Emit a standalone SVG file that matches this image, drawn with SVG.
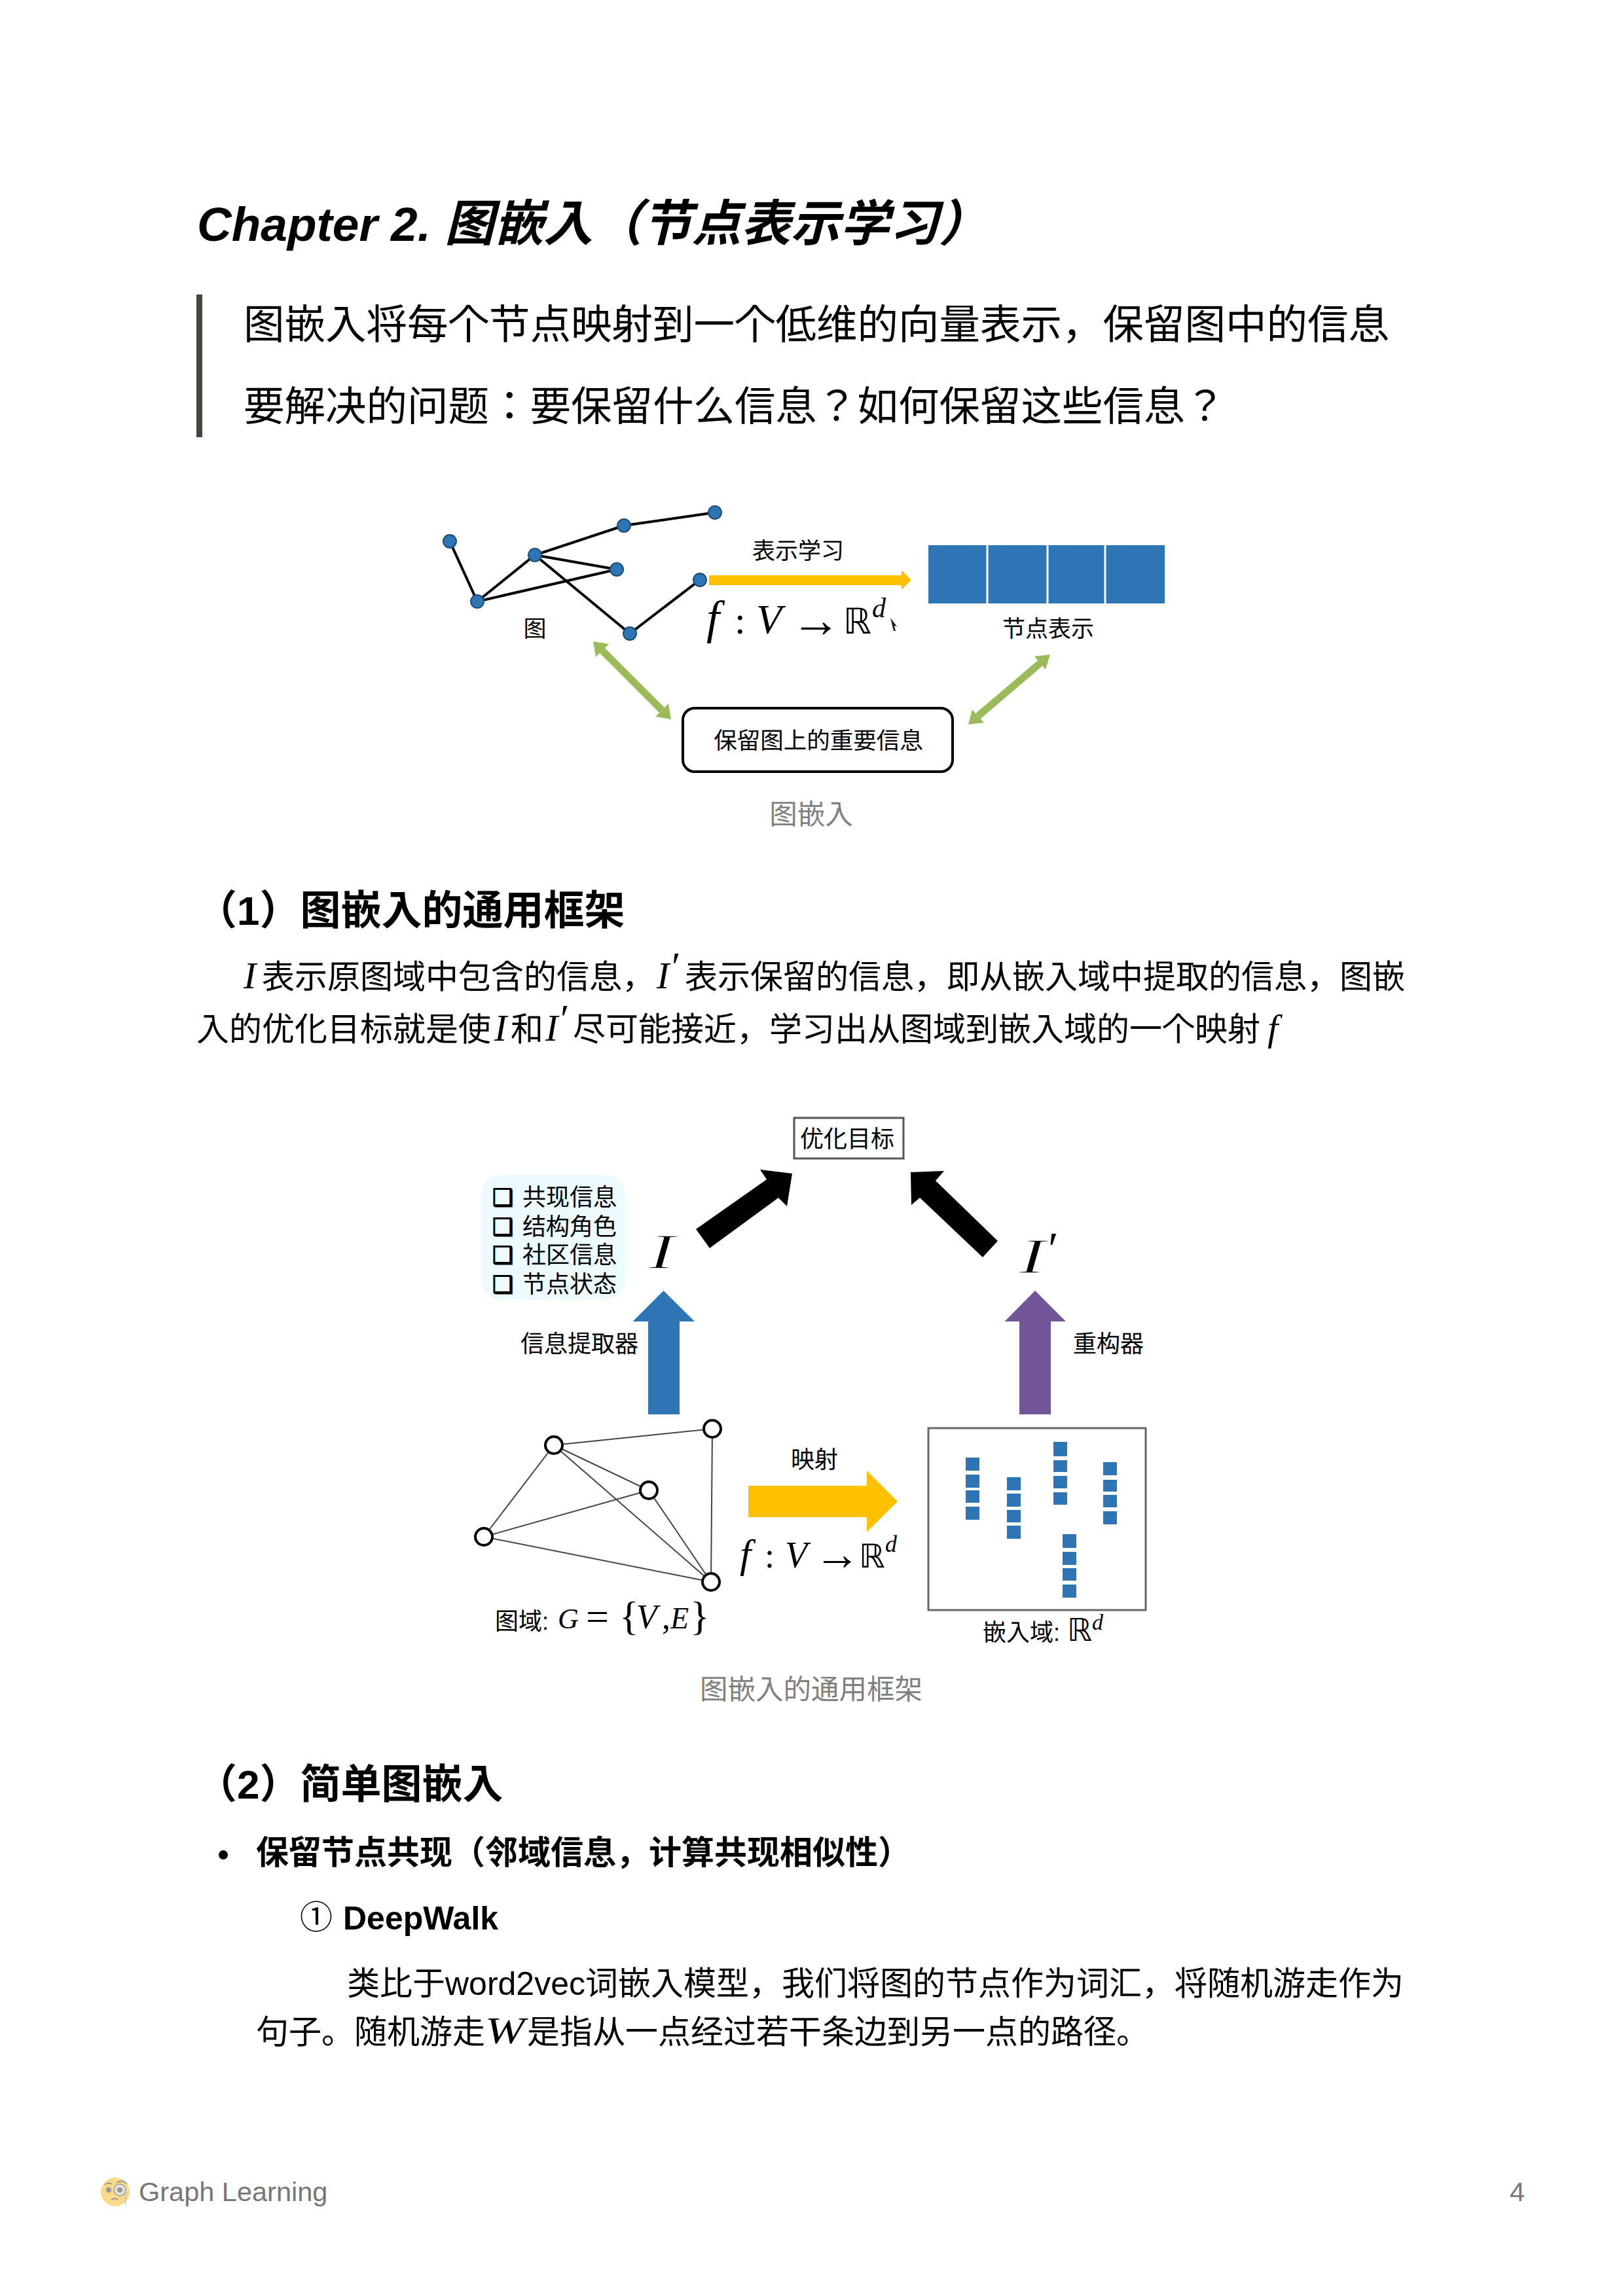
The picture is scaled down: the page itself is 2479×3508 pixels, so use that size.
<svg xmlns="http://www.w3.org/2000/svg" width="2479" height="3508" viewBox="0 0 2479 3508">
<defs>
<style>
text{font-family:"Liberation Sans","Noto Sans CJK JP",sans-serif;fill:#000}
.body{font-size:50px}
.lead{font-size:62.5px}
.sec{font-size:62px;font-weight:bold}
.bold{font-size:50px;font-weight:bold}
.cap{font-size:42.5px;fill:#7f7f7f;text-anchor:middle}
.lab{font-size:35px;text-anchor:middle}
.lab36{font-size:36px;text-anchor:middle}
.m{font-family:"Liberation Serif","DejaVu Serif",serif;font-style:italic}
.r{font-family:"Liberation Serif","DejaVu Serif",serif}
.d{font-family:"DejaVu Sans",sans-serif}
.thin{stroke:#fff;stroke-width:1.6px}
.chk{font-family:"DejaVu Sans",sans-serif;font-size:36px;stroke:#000;stroke-width:1.3px}
.node1{fill:#2e75b6;stroke:#1f4e79;stroke-width:2}
.node2{fill:#fff;stroke:#000;stroke-width:4}
.e1{stroke:#000;stroke-width:4;fill:none}
.e2{stroke:#444;stroke-width:2;fill:none}
.sq{fill:#2e75b6}
.foot{font-size:41.5px;fill:#777}
</style>
</defs>
<rect width="2479" height="3508" fill="#fff"/>

<text id="title" y="368" font-weight="bold" font-style="italic"><tspan x="301" font-size="73">Chapter 2.</tspan><tspan x="679" font-size="75.5">图嵌入（节点表示学习）</tspan></text>
<rect id="quote-bar" x="300" y="450" width="9" height="218" fill="#45453d"/>
<text class="lead" x="372" y="518">图嵌入将每个节点映射到一个低维的向量表示，保留图中的信息</text>
<text class="lead" x="372" y="643">要解决的问题：要保留什么信息？如何保留这些信息？</text>

<!-- figure 1 -->
<g id="fig1-connectors">
<path class="e1" d="M687 827L729 919L817 848L953 803L1092 783"/>
<path class="e1" d="M817 848L942 870L729 919"/>
<path class="e1" d="M817 848L962 968L1069 886"/>
<polygon fill="#ffc000" points="1083,879 1377,879 1377,871 1392,886 1377,901 1377,894 1083,894"/>
<path d="M920 994L1011 1085M1589 1013L1494 1094" stroke="#9bbb59" stroke-width="11" fill="none"/>
<polygon fill="#9bbb59" points="906,980 930,984 910,1004"/>
<polygon fill="#9bbb59" points="1025,1099 1021,1075 1001,1095"/>
<polygon fill="#9bbb59" points="1604,1000 1597,1023 1580,1003"/>
<polygon fill="#9bbb59" points="1479,1107 1503,1104 1485,1084"/>
</g>
<g id="fig1-n1"><circle class="node1" cx="687" cy="827" r="10"/></g>
<g id="fig1-n2"><circle class="node1" cx="729" cy="919" r="10"/></g>
<g id="fig1-n3"><circle class="node1" cx="817" cy="848" r="10"/></g>
<g id="fig1-n4"><circle class="node1" cx="953" cy="803" r="10"/></g>
<g id="fig1-n5"><circle class="node1" cx="1092" cy="783" r="10"/></g>
<g id="fig1-n6"><circle class="node1" cx="942" cy="870" r="10"/></g>
<g id="fig1-n7"><circle class="node1" cx="1069" cy="886" r="10"/></g>
<g id="fig1-n8"><circle class="node1" cx="962" cy="968" r="10"/></g>
<g id="fig1-graph-label"><text class="lab" x="817" y="973">图</text></g>
<g id="fig1-learn-label"><text class="lab" x="1219" y="854">表示学习</text></g>
<g id="fig1-map-label">
<text class="m" x="1079" y="968" font-size="72">f</text>
<text class="r" x="1122" y="968" font-size="60">:</text>
<text class="m" x="1155" y="968" font-size="64">V</text>
<text class="r" x="1208" y="973" font-size="76">→</text>
<text class="d" x="1288" y="968" font-size="54">ℝ</text>
<text class="m" x="1332" y="943" font-size="42">d</text>
<polygon points="1360,944 1370,957 1366,956 1368,964 1365,964 1363,956" fill="#222"/></g>
<g id="fig1-embedding">
<rect x="1418" y="833" width="361" height="89" fill="#2e75b6"/>
<path d="M1508 833V922M1600 833V922M1688 833V922" stroke="#fff" stroke-width="3"/>
<text class="lab" x="1601" y="973">节点表示</text>
</g>
<g id="fig1-preserve">
<rect x="1043" y="1082" width="412" height="97" rx="18" fill="#fff" stroke="#000" stroke-width="4"/>
<text x="1250" y="1144" font-size="35.5" text-anchor="middle">保留图上的重要信息</text>
</g>
<text class="cap" x="1239" y="1259">图嵌入</text>

<text class="sec" x="300" y="1413">（1）图嵌入的通用框架</text>
<text class="m" x="372" y="1510" font-size="58">I</text>
<text class="body" x="400" y="1510">表示原图域中包含的信息，</text>
<text class="m" x="1003" y="1510" font-size="58">I</text><text class="r" x="1026" y="1497" font-size="62">′</text>
<text class="body" x="1046" y="1510">表示保留的信息，即从嵌入域中提取的信息，图嵌</text>
<text class="body" x="300" y="1590">入的优化目标就是使</text>
<text class="m" x="755" y="1590" font-size="58">I</text>
<text class="body" x="780" y="1590">和</text>
<text class="m" x="833" y="1590" font-size="58">I</text><text class="r" x="856" y="1577" font-size="62">′</text>
<text class="body" x="875" y="1590">尽可能接近，学习出从图域到嵌入域的一个映射</text>
<text class="m" x="1936" y="1590" font-size="58">f</text>

<!-- figure 2 -->
<g id="fig2-objective">
<rect x="1213" y="1708" width="167" height="62" fill="#fff" stroke="#555" stroke-width="3"/>
<text class="lab36" x="1294" y="1753">优化目标</text>
</g>
<g id="fig2-info-list">
<rect x="735" y="1795" width="220" height="191" rx="30" fill="#edfbfe"/>
<text class="chk" x="752" y="1842">❑</text>
<text class="lab36" x="870" y="1842">共现信息</text>
<text class="chk" x="752" y="1887">❑</text>
<text class="lab36" x="870" y="1887">结构角色</text>
<text class="chk" x="752" y="1930">❑</text>
<text class="chk" x="752" y="1975">❑</text>
<text class="lab36" x="870" y="1930">社区信息</text>
<text class="lab36" x="870" y="1975">节点状态</text>
</g>
<g id="fig2-I"><text class="m thin" transform="translate(990,1938) scale(1.6,1)" font-size="77">I</text></g>
<g id="fig2-Iprime"><text class="m thin" transform="translate(1556,1945) scale(1.6,1)" font-size="77">I</text><text class="r" x="1601" y="1932" font-size="72">′</text></g>
<g id="fig2-extractor-label"><text class="lab36" x="885" y="2066">信息提取器</text></g>
<g id="fig2-decoder-label"><text class="lab36" x="1693" y="2066">重构器</text></g>
<g id="fig2-map-label">
<text class="lab36" x="1244" y="2243">映射</text>
<text class="m" x="1130" y="2395" font-size="62">f</text>
<text class="r" x="1168" y="2395" font-size="54">:</text>
<text class="m" x="1199" y="2395" font-size="56">V</text>
<text class="r" x="1244" y="2398" font-size="70">→</text>
<text class="d" x="1312" y="2395" font-size="50">ℝ</text>
<text class="m" x="1352" y="2371" font-size="36">d</text>
</g>
<g id="fig2-connectors">
<polygon fill="#000" points="1063,1878 1084,1907 1189,1830 1202,1843 1210,1793 1161,1787 1171,1802"/>
<polygon fill="#000" points="1391,1791 1442,1789 1429,1804 1524,1896 1501,1921 1405,1830 1392,1841"/>
<polygon fill="#2e75b6" points="1013.5,1972 1061,2019 1038,2019 1038,2161 990,2161 990,2019 966.5,2019"/>
<polygon fill="#73559a" points="1581,1972 1628,2019 1605,2019 1605,2161 1557,2161 1557,2019 1534.5,2019"/>
<polygon fill="#ffc000" points="1143,2270 1324,2270 1324,2247 1371,2294 1324,2341 1324,2318 1143,2318"/>
<path class="e2" d="M846 2208L1088 2183L1086 2417L846 2208L991 2277L1086 2417L739 2348L846 2208M739 2348L991 2277"/>
</g>
<g id="fig2-a"><circle class="node2" cx="739" cy="2348" r="13"/></g>
<g id="fig2-b"><circle class="node2" cx="846" cy="2208" r="13"/></g>
<g id="fig2-c"><circle class="node2" cx="1088" cy="2183" r="13"/></g>
<g id="fig2-d"><circle class="node2" cx="991" cy="2277" r="13"/></g>
<g id="fig2-e"><circle class="node2" cx="1086" cy="2417" r="13"/></g>
<g id="fig2-graph-domain">
<text x="756" y="2490" font-size="36">图域:</text>
<text class="m" x="852" y="2488" font-size="44">G</text>
<text class="r" x="895" y="2491" font-size="62">=</text>
<text class="r" x="946" y="2490" font-size="62">{</text>
<text class="m" x="972" y="2488" font-size="52">V</text>
<text class="r" x="1011" y="2488" font-size="52">,</text>
<text class="m" x="1024" y="2488" font-size="46">E</text>
<text class="r" x="1054" y="2490" font-size="62">}</text>
</g>
<g id="fig2-embed-domain">
<rect x="1418" y="2182" width="332" height="278" fill="#fff" stroke="#666" stroke-width="3"/>
<g class="sq">
<rect x="1475" y="2227" width="21" height="20"/><rect x="1475" y="2253" width="21" height="20"/><rect x="1475" y="2277" width="21" height="19"/><rect x="1475" y="2302" width="21" height="20"/>
<rect x="1538" y="2257" width="21" height="20"/><rect x="1538" y="2282" width="21" height="20"/><rect x="1538" y="2307" width="21" height="19"/><rect x="1538" y="2331" width="21" height="20"/>
<rect x="1609" y="2203" width="21" height="22"/><rect x="1609" y="2231" width="21" height="18"/><rect x="1609" y="2255" width="21" height="19"/><rect x="1609" y="2280" width="21" height="19"/>
<rect x="1685" y="2234" width="21" height="20"/><rect x="1685" y="2261" width="21" height="18"/><rect x="1685" y="2284" width="21" height="19"/><rect x="1685" y="2309" width="21" height="20"/>
<rect x="1623" y="2344" width="21" height="21"/><rect x="1623" y="2371" width="21" height="20"/><rect x="1623" y="2396" width="21" height="19"/><rect x="1623" y="2421" width="21" height="20"/>
</g>
<text x="1501" y="2507" font-size="36">嵌入域:</text>
<text class="d" x="1630" y="2507" font-size="48">ℝ</text>
<text class="m" x="1668" y="2490" font-size="34">d</text>
</g>
<text class="cap" x="1239" y="2596">图嵌入的通用框架</text>

<text class="sec" x="300" y="2748">（2）简单图嵌入</text>
<circle id="bullet" cx="341" cy="2834" r="7" fill="#000"/>
<text class="bold" x="391" y="2848">保留节点共现（邻域信息，计算共现相似性）</text>
<text x="458" y="2947" font-size="50">①</text><text class="bold" x="524" y="2948">DeepWalk</text>
<text class="body" x="530" y="3048">类比于word2vec词嵌入模型，我们将图的节点作为词汇，将随机游走作为</text>
<text class="body" x="391" y="3122">句子。随机游走</text>
<text class="m" transform="translate(741,3122) scale(1.25,1)" font-size="58">W</text>
<text class="body" x="805" y="3122">是指从一点经过若干条边到另一点的路径。</text>

<!-- footer -->
<g id="footer-emoji" opacity="0.6">
<circle cx="176" cy="3349" r="22" fill="#f5c33b"/>
<circle cx="183" cy="3346" r="9" fill="#d9d2b8" stroke="#777" stroke-width="2"/>
<circle cx="183" cy="3346" r="4" fill="#555"/>
<circle cx="166" cy="3346" r="4" fill="#555"/>
<path d="M160 3338q5-4 11-1M178 3335q9-6 16 2M170 3361q5-4 10 0" stroke="#555" stroke-width="2" fill="none"/>
<path d="M192 3349V3370" stroke="#888" stroke-width="1.5" stroke-dasharray="2 1"/>
</g>
<text class="foot" x="212" y="3363">Graph Learning</text>
<text class="foot" x="2329" y="3363" text-anchor="end">4</text>
</svg>
